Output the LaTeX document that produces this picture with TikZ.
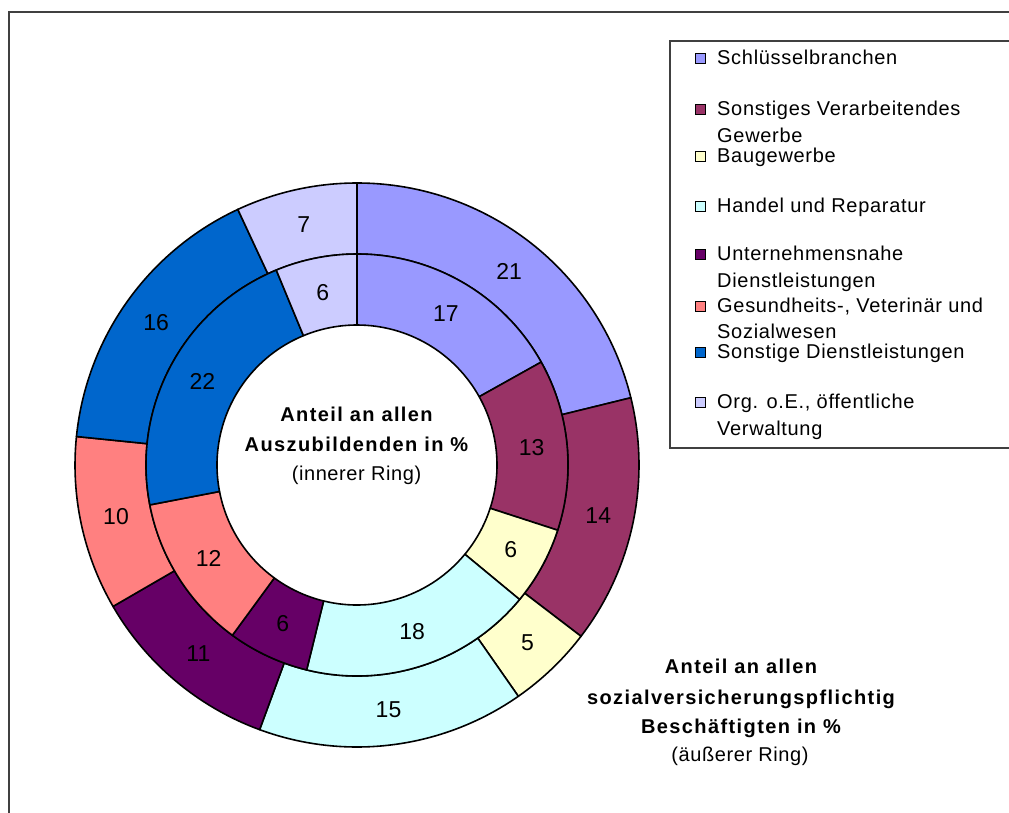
\documentclass[tikz,border=0pt]{standalone}
\usepackage{fontspec}
\setmainfont{Liberation Sans}
\newfontfamily\legfont[LetterSpace=3.5]{Liberation Sans}
\newfontfamily\ttlfont[LetterSpace=7]{Liberation Sans}
\newfontfamily\subfont[LetterSpace=3]{Liberation Sans}
\usetikzlibrary{calc}
\definecolor{cSchl}{HTML}{9999FF}
\definecolor{cVer}{HTML}{993366}
\definecolor{cBau}{HTML}{FFFFCC}
\definecolor{cHan}{HTML}{CCFFFF}
\definecolor{cUnt}{HTML}{660066}
\definecolor{cGes}{HTML}{FF8080}
\definecolor{cSon}{HTML}{0066CC}
\definecolor{cOrg}{HTML}{CCCCFF}
\definecolor{frameGray}{HTML}{404040}
\begin{document}
\begin{tikzpicture}[x=1pt,y=1pt,
  seg/.style={draw=black,line width=1.6pt,line join=round},
  num/.style={inner sep=0pt,font=\fontsize{23}{23}\selectfont},
  legtxt/.style={anchor=base west,inner sep=0pt,font=\legfont\fontsize{20}{24}\selectfont},
  legbox/.style={draw=black,line width=1.2pt},
  ttl/.style={anchor=base,inner sep=0pt,font=\ttlfont\bfseries\fontsize{20}{24}\selectfont},
  sub/.style={anchor=base,inner sep=0pt,font=\subfont\fontsize{20}{24}\selectfont},
  frameline/.style={draw=frameGray,line width=1.3pt}]
\useasboundingbox (0,0) rectangle (1009,-812);
\clip (0,0) rectangle (1009,-812);
\fill[white] (0,0) rectangle (1009,-812);
% outer frame (right and bottom edges lie outside the picture)
\draw[frameline] (1020,-12) -- (9,-12) -- (9,-830);
\coordinate (C) at (357,-465);
% outer ring
\foreach \a/\b/\c/\t/\n in {0/76.2/cSchl/21/o1, 76.2/127.4/cVer/14/o2, 127.4/145.1/cBau/5/o3, 145.1/200.2/cHan/15/o4, 200.2/239.9/cUnt/11/o5, 239.9/275.8/cGes/10/o6, 275.8/335/cSon/16/o7, 335/360/cOrg/7/o8}{
  \draw[seg,fill=\c] ($(C)+({90-\a}:282pt)$) arc[start angle={90-\a}, end angle={90-\b}, radius=282pt]
     -- ($(C)+({90-\b}:211pt)$) arc[start angle={90-\b}, end angle={90-\a}, radius=211pt] -- cycle;
  \node[num] (\n) at ($(C)+({90-(\a+\b)/2}:246.5pt)$) {\t};
}
% inner ring
\foreach \a/\b/\c/\t/\n in {0/60.8/cSchl/17/i1, 60.8/108/cVer/13/i2, 108/129.6/cBau/6/i3, 129.6/193.8/cHan/18/i4, 193.8/216.2/cUnt/6/i5, 216.2/259.1/cGes/12/i6, 259.1/337.5/cSon/22/i7, 337.5/360/cOrg/6/i8}{
  \draw[seg,fill=\c] ($(C)+({90-\a}:211pt)$) arc[start angle={90-\a}, end angle={90-\b}, radius=211pt]
     -- ($(C)+({90-\b}:140pt)$) arc[start angle={90-\b}, end angle={90-\a}, radius=140pt] -- cycle;
  \node[num] (\n) at ($(C)+({90-(\a+\b)/2}:175.5pt)$) {\t};
}
% centre text
\node[ttl] (c1) at (356.5,-421.7) {Anteil an allen};
\node[ttl] (c2) at (356.5,-451.7) {Auszubildenden in \%};
\node[sub] (c3) at (356.5,-480.7) {(innerer Ring)};
% outer ring note
\node[ttl] (n1) at (741,-673.7) {Anteil an allen};
\node[ttl] (n2) at (741,-704) {sozialversicherungspflichtig};
\node[ttl] (n3) at (741,-733.3) {Beschäftigten in \%};
\node[sub] (n4) at (740,-761) {(äußerer Ring)};
% legend
\draw[frameline] (1020,-41) -- (670,-41) -- (670,-448) -- (1020,-448);
\draw[legbox,fill=cSchl] (695.5,-53.5) rectangle (705.5,-63.5);
\node[legtxt] (l1) at (717,-64) {Schlüsselbranchen};
\draw[legbox,fill=cVer] (695.5,-104.5) rectangle (705.5,-114.5);
\node[legtxt] (l2) at (717,-115) {Sonstiges Verarbeitendes};
\node[legtxt] (l2b) at (717,-142) {Gewerbe};
\draw[legbox,fill=cBau] (695.5,-151.5) rectangle (705.5,-161.5);
\node[legtxt] (l3) at (717,-162) {Baugewerbe};
\draw[legbox,fill=cHan] (695.5,-201.5) rectangle (705.5,-211.5);
\node[legtxt] (l4) at (717,-212) {Handel und Reparatur};
\draw[legbox,fill=cUnt] (695.5,-249.5) rectangle (705.5,-259.5);
\node[legtxt] (l5) at (717,-260) {Unternehmensnahe};
\node[legtxt] (l5b) at (717,-287) {Dienstleistungen};
\draw[legbox,fill=cGes] (695.5,-301.5) rectangle (705.5,-311.5);
\node[legtxt] (l6) at (717,-312) {Gesundheits-, Veterinär und};
\node[legtxt] (l6b) at (717,-338) {Sozialwesen};
\draw[legbox,fill=cSon] (695.5,-347.5) rectangle (705.5,-357.5);
\node[legtxt] (l7) at (717,-358) {Sonstige Dienstleistungen};
\draw[legbox,fill=cOrg] (695.5,-397.5) rectangle (705.5,-407.5);
\node[legtxt] (l8) at (717,-408) {Org. o.E., öffentliche};
\node[legtxt] (l8b) at (717,-435) {Verwaltung};
\end{tikzpicture}
\end{document}
